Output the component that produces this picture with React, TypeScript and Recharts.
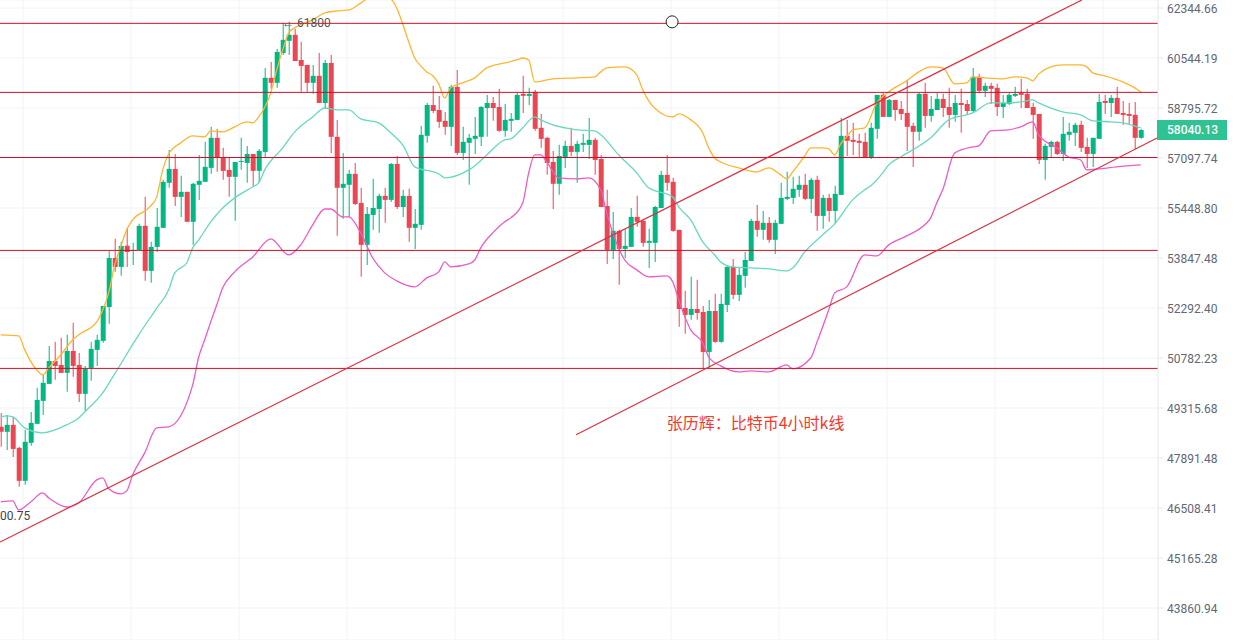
import React from "react";
import {
  Bar,
  CartesianGrid,
  Cell,
  ComposedChart,
  Line,
  ReferenceDot,
  ReferenceLine,
  XAxis,
  YAxis,
} from "recharts";

// 4h candles, oldest first
const opens = [
  48775, 48632, 48832, 48177, 47255, 48320, 48860, 49521, 50019, 50694,
  50577, 50342, 50993, 50577, 49726, 50489, 51024, 51295, 52323, 53847,
  53567, 54232, 54072, 54104, 54873, 53443, 54200, 54808, 56274, 56735,
  55812, 55977, 55001, 56208, 56306, 56768, 57777, 57132, 56702, 56471,
  56966, 56933, 57234, 56669, 57302, 59845, 59670, 60725, 61157, 61373,
  60474, 60299, 59670, 59915, 58970, 60369, 57811, 56109, 56208, 56570,
  55614, 54264, 55225, 55417, 55845, 55713, 56900, 55482, 55845, 54808,
  54905, 57845, 58900, 58728, 58355, 58151, 59530, 57268, 57607, 57743,
  57811, 58796, 58970, 58830, 58015, 58355, 58388, 59285, 59215, 59355,
  58117, 57777, 56966, 56241, 57132, 57505, 57302, 57539, 57539, 57709,
  57065, 55515, 54104, 54712, 54136, 54200, 55161, 55033, 54328, 54328,
  55449, 56537, 56306, 54744, 52292, 52081, 52262, 52171, 50963, 52201,
  51265, 52386, 53567, 52697, 53287, 53754, 55033, 54744, 54969, 54424,
  54937, 55746, 55779, 56043, 56208, 55746, 56372, 55193, 55779, 55353,
  55878, 57845, 57709, 57675, 57641, 57132, 58083, 59250, 58490, 59075,
  58762, 58626, 58185, 57981, 59285, 58524, 58728, 59110, 58830, 58558,
  58970, 58935, 58694, 59880, 59390, 59565, 59495, 58830, 58935, 59215,
  59320, 59285, 58830, 58592, 57032, 57471, 57641, 57234, 57879, 57947,
  58219, 57471, 57234, 57743, 59040, 58970, 59145, 58626, 58592, 58558,
  57777,
];
const highs = [
  49174, 49117, 49060, 48205, 48689, 49202, 49902, 50283, 51144, 51265,
  51386, 51477, 51839, 50933, 50547, 51265, 51477, 52355, 54072, 54456,
  54360, 54808, 54328, 54937, 55812, 54360, 55449, 56372, 57370, 57234,
  56504, 55977, 56274, 57200, 57641, 58151, 58083, 57438, 57132, 56966,
  57777, 57505, 57234, 57404, 60194, 60404, 60869, 61805, 61841, 61589,
  61121, 60299, 60299, 60725, 60474, 60653, 58388, 57268, 56702, 56933,
  56109, 55482, 56405, 55911, 56109, 56933, 57166, 56043, 56076, 55417,
  58185, 58970, 59565, 59215, 58660, 59600, 60124, 58151, 57913, 58490,
  58865, 59250, 59180, 59460, 58935, 58626, 59320, 59915, 59495, 59425,
  58592, 57811, 57336, 57539, 57675, 58117, 57675, 57913, 58456, 57777,
  57200, 56043, 55321, 54744, 54776, 55449, 55845, 55065, 54776, 55515,
  56669, 57200, 56438, 54744, 52821, 53256, 53163, 52355, 52541, 52728,
  52728, 53598, 53816, 53567, 54040, 55097, 55548, 55353, 55161, 55065,
  56274, 56636, 56471, 56504, 56570, 56438, 56504, 55878, 55911, 56175,
  58456, 58388, 58287, 57913, 57947, 58287, 59250, 59320, 59110, 59075,
  59040, 59775, 58287, 59320, 59670, 59215, 59320, 59285, 59495, 59250,
  59460, 59075, 60194, 59984, 59670, 59670, 59635, 59250, 59320, 59530,
  59810, 59460, 58970, 58592, 57573, 57675, 57675, 58490, 58287, 58287,
  58355, 57777, 57777, 59285, 59250, 59250, 59530, 59040, 58970, 59005,
  58083,
];
const lows = [
  48205, 48120, 47920, 47089, 47144, 48234, 48860, 49117, 50019, 50137,
  50342, 49785, 50225, 49491, 49231, 50107, 50547, 51235, 51809, 53412,
  53287, 53567, 53629, 54104, 53132, 53070, 54040, 54808, 56109, 55515,
  55161, 55001, 54264, 55713, 56306, 56570, 56636, 56372, 55812, 55033,
  56702, 56274, 56142, 56274, 57132, 59460, 59495, 60653, 60653, 60439,
  59355, 59355, 59285, 58970, 58762, 57268, 54552, 55097, 55161, 55548,
  53256, 53629, 54744, 54648, 54969, 55647, 55417, 55161, 54360, 54136,
  54744, 57607, 58626, 58117, 57879, 57505, 57200, 57032, 56208, 57234,
  57505, 57811, 58355, 57981, 57811, 57981, 58388, 58626, 58900, 58015,
  57438, 56537, 55417, 55878, 56768, 57166, 56274, 57302, 57065, 56537,
  55482, 53660, 53816, 53007, 53847, 54200, 54841, 54200, 53536, 53723,
  55449, 56010, 54680, 51718, 51507, 51930, 51930, 50489, 50489, 51235,
  51235, 52171, 52572, 52510, 52914, 53754, 54520, 54424, 54328, 53976,
  54937, 55713, 55581, 55812, 55713, 55289, 54712, 54776, 55001, 54937,
  55878, 57166, 57200, 57098, 57098, 57065, 57743, 58490, 58490, 58355,
  58388, 57336, 56801, 57675, 58117, 58321, 58728, 58490, 58117, 58321,
  57947, 58558, 58660, 59320, 59180, 58935, 58524, 58456, 58900, 59180,
  58796, 58796, 57743, 56900, 56372, 57132, 57200, 56999, 57675, 57505,
  57302, 56768, 56801, 57743, 58592, 58490, 58592, 58219, 58219, 57404,
  57743,
];
const closes = [
  48632, 48832, 48148, 47255, 48348, 48889, 49550, 50049, 50694, 50547,
  50342, 50993, 50547, 49726, 50459, 51054, 51326, 52355, 53847, 53567,
  54232, 54040, 54104, 54873, 53443, 54200, 54841, 56306, 56735, 55812,
  55977, 55001, 56241, 56339, 56801, 57777, 57098, 56669, 56471, 56966,
  56999, 57234, 56669, 57336, 59845, 59670, 60761, 61193, 61373, 60439,
  60264, 59670, 59915, 58970, 60369, 57811, 56109, 56241, 56570, 55581,
  54264, 55257, 55449, 55845, 55713, 56900, 55482, 55845, 54808, 54937,
  57879, 58900, 58694, 58321, 58151, 59530, 57268, 57641, 57777, 57845,
  58830, 58970, 58796, 58015, 58388, 58422, 59250, 59215, 59285, 58083,
  57743, 56933, 56241, 57166, 57505, 57302, 57573, 57607, 57709, 57032,
  55482, 54104, 54712, 54136, 54232, 55161, 55001, 54328, 54392, 55482,
  56537, 56274, 54712, 52262, 52081, 52262, 52141, 50963, 52201, 51265,
  52417, 53567, 52697, 53318, 53785, 55033, 54744, 54969, 54424, 54969,
  55779, 55812, 56076, 56208, 55746, 56372, 55193, 55779, 55353, 55911,
  57845, 57675, 57641, 57607, 57132, 58117, 59250, 58490, 59075, 58728,
  58592, 58151, 57981, 59285, 58524, 58762, 59110, 58796, 58558, 58970,
  58900, 58694, 59880, 59390, 59565, 59460, 58830, 58970, 59250, 59285,
  59250, 58796, 58558, 57032, 57505, 57641, 57234, 57913, 57981, 58219,
  57438, 57234, 57777, 59005, 58970, 59145, 58592, 58558, 58524, 57777,
  58040,
];

// bollinger bands, sampled at these candle positions
const upperAt = [
  0, 3, 4, 6, 7, 8, 10, 12, 13, 16, 17, 18, 19, 20, 21, 22, 25, 26, 27, 28,
  30, 32, 34, 35, 37, 39, 41, 42, 43, 45, 46, 47, 48, 49, 52, 54, 56, 58, 60, 62,
  65, 66, 67, 68, 69, 70, 71, 72, 73, 74, 75, 77, 79, 81, 84, 86, 87, 88, 89, 92,
  96, 99, 100, 101, 104, 106, 107, 108, 110, 112, 113, 115, 117, 118, 119, 120, 123, 126, 128, 130,
  131, 132, 134, 135, 137, 138, 139, 140, 141, 142, 144, 146, 148, 151, 153, 155, 157, 159, 161, 162,
  164, 167, 169, 171, 172, 173, 175, 177, 180, 181, 182, 184, 187, 189, 190,
];
const upperBand = [
  51477, 51447, 51024, 50430, 50283, 50489, 50873, 51326, 51477, 51869, 52232, 52759, 53629, 54200, 54744, 55065, 55515, 55812, 56702, 57234,
  57607, 57845, 57811, 58015, 57981, 58151, 58321, 58287, 58490, 59320, 60124, 60833, 61445, 61625, 61913, 62165, 62237, 62273, 62525, 62777,
  62669, 62345, 61769, 61121, 60544, 60264, 60054, 59915, 59635, 59145, 59495, 59670, 59845, 60194, 60369, 60474, 60544, 60474, 59705, 59810,
  59845, 59880, 60054, 60194, 60229, 59949, 59425, 59040, 58626, 58490, 58592, 58388, 57947, 57438, 57098, 56966, 56768, 56636, 56768, 56537,
  56405, 56636, 57166, 57438, 57438, 57404, 57200, 57573, 57811, 58049, 58117, 58970, 59355, 59740, 60054, 60229, 60194, 59635, 59670, 59880,
  59845, 59810, 59880, 59845, 59740, 59984, 60229, 60299, 60299, 60229, 60019, 59915, 59705, 59495, 59355,
];
const midAt = [
  0, 1, 2, 4, 7, 11, 13, 14, 17, 19, 23, 26, 28, 29, 31, 32, 33, 35, 37, 39,
  42, 43, 44, 47, 49, 52, 54, 56, 58, 60, 63, 65, 67, 69, 73, 74, 78, 79, 81, 84,
  85, 87, 89, 90, 92, 95, 96, 99, 100, 103, 106, 108, 112, 113, 115, 117, 119, 120, 122, 125,
  128, 131, 132, 134, 137, 139, 142, 144, 145, 147, 148, 150, 155, 158, 162, 165, 168, 170, 172, 173,
  177, 180, 182, 185, 187, 190,
];
const midBand = [
  49060, 49088, 49060, 48746, 48604, 48832, 49031, 49202, 49756, 50313, 51477, 52292, 52852, 53381, 53691, 54168, 54424, 55001, 55449, 55779,
  56142, 56274, 56702, 57438, 57981, 58490, 58796, 58728, 58728, 58422, 58287, 57947, 57539, 56801, 56570, 56438, 56702, 56834, 57200, 57709,
  57743, 58117, 58490, 58388, 58219, 58083, 58049, 58015, 57879, 57200, 56603, 56109, 55812, 55482, 55065, 54360, 53944, 53723, 53567, 53536,
  53505, 53443, 53536, 54040, 54584, 54937, 55713, 56043, 56175, 56603, 56867, 57132, 57777, 58388, 58626, 58970, 58970, 59005, 59075, 58970,
  58660, 58558, 58355, 58321, 58287, 58117,
];
const lowerAt = [
  0, 2, 3, 5, 7, 8, 11, 13, 16, 17, 18, 20, 21, 22, 24, 26, 28, 32, 33, 34,
  35, 36, 37, 39, 42, 45, 48, 50, 52, 54, 55, 57, 58, 60, 62, 64, 66, 69, 71, 73,
  74, 75, 78, 79, 80, 82, 84, 85, 87, 88, 89, 90, 91, 93, 96, 98, 100, 101, 104, 106,
  108, 111, 112, 113, 115, 117, 118, 120, 123, 125, 128, 131, 132, 135, 136, 138, 139, 141, 144, 146,
  148, 151, 154, 155, 156, 157, 159, 162, 163, 165, 168, 170, 172, 173, 176, 178, 180, 181, 183, 186,
  190,
];
const lowerBand = [
  46674, 46702, 46454, 46674, 46923, 46785, 46536, 46646, 47283, 47338, 47034, 46895, 46978, 47421, 48035, 48746, 48775, 49990, 50812, 51326,
  51869, 52386, 52914, 53412, 53880, 54456, 53944, 54264, 54905, 55417, 55417, 55161, 55161, 54648, 53847, 53381, 53132, 52945, 53225, 53412,
  53723, 53567, 53660, 53785, 54168, 54648, 55001, 55129, 55614, 56603, 57200, 57200, 56966, 56438, 56405, 56438, 56043, 55289, 53785, 53474,
  53256, 53287, 53101, 52541, 51628, 51235, 50812, 50547, 50371, 50401, 50371, 50577, 50459, 50782, 51235, 52232, 52759, 52945, 53944, 53912,
  54264, 54552, 54905, 55129, 55614, 56043, 57268, 57471, 57505, 58015, 58049, 58151, 58321, 57879, 57438, 57132, 57032, 56702, 56735, 56801,
  56867,
];

const yTicks = [
  62344.66, 60544.19, 58795.72, 57097.74, 55448.8, 53847.48, 52292.4, 50782.23,
  49315.68, 47891.48, 46508.41, 45165.28, 43860.94,
];
const levels = [61787, 59337, 57115, 54088, 50474];
const channelLower = [
  { x: -0.1, y: 45590 },
  { x: 180.2, y: 62638 },
];
const channelUpper = [
  { x: 95.9, y: 48547 },
  { x: 192.8, y: 57777 },
];
const gridX = [23, 131, 239, 347, 455, 563, 671, 779, 887, 995, 1103];

const UP = "#00b884";
const DOWN = "#ea4653";

const rows = opens.map((open, k) => {
  const upperIdx = upperAt.indexOf(k);
  const midIdx = midAt.indexOf(k);
  const lowerIdx = lowerAt.indexOf(k);
  return {
    k,
    rising: closes[k] >= open,
    wick: [lows[k], highs[k]],
    body: [Math.min(open, closes[k]), Math.max(open, closes[k])],
    upper: upperIdx >= 0 ? upperBand[upperIdx] : null,
    mid: midIdx >= 0 ? midBand[midIdx] : null,
    lower: lowerIdx >= 0 ? lowerBand[lowerIdx] : null,
  };
});

const App: React.FC = () => {
  return (
    <div
      style={{
        position: "absolute",
        left: 0,
        top: 0,
        width: 1237,
        height: 640,
        background: "#fff",
        fontFamily: "Roboto, sans-serif",
      }}
    >
      <ComposedChart
        width={1237}
        height={640}
        data={rows}
        margin={{ top: 0, right: 0, bottom: 0, left: 0 }}
      >
        <CartesianGrid stroke="#f1f3f7" verticalPoints={gridX} />
        <XAxis
          dataKey="k"
          type="number"
          domain={[-0.1167, 192.883]}
          allowDataOverflow
          hide
        />
        <XAxis
          xAxisId="body"
          dataKey="k"
          type="number"
          domain={[-0.1167, 192.883]}
          allowDataOverflow
          hide
        />
        <YAxis
          orientation="right"
          width={79}
          scale="log"
          domain={[43046, 62638]}
          allowDataOverflow
          ticks={yTicks}
          interval={0}
          tickFormatter={(v: number) => v.toFixed(2)}
          tick={{ fill: "#5f6878", fontSize: 12, dy: 1 }}
          tickSize={5}
          tickMargin={4}
          tickLine={{ stroke: "#e3e6ec" }}
          axisLine={{ stroke: "#e3e6ec" }}
        />

        <Bar dataKey="wick" barSize={1} isAnimationActive={false}>
          {rows.map((r) => (
            <Cell key={r.k} fill={r.rising ? UP : DOWN} />
          ))}
        </Bar>
        <Bar xAxisId="body" dataKey="body" barSize={5} minPointSize={1} isAnimationActive={false}>
          {rows.map((r) => (
            <Cell key={r.k} fill={r.rising ? UP : DOWN} />
          ))}
        </Bar>

        <Line type="monotone" dataKey="upper" stroke="#ffb52e" strokeWidth={1.3} dot={false} activeDot={false} connectNulls isAnimationActive={false} />
        <Line type="monotone" dataKey="mid" stroke="#66d9bf" strokeWidth={1.3} dot={false} activeDot={false} connectNulls isAnimationActive={false} />
        <Line type="monotone" dataKey="lower" stroke="#ea5cc6" strokeWidth={1.3} dot={false} activeDot={false} connectNulls isAnimationActive={false} />

        {levels.map((y) => (
          <ReferenceLine key={y} y={y} stroke="#cf1027" strokeWidth={1} />
        ))}
        <ReferenceLine segment={channelLower} stroke="#dc3040" strokeWidth={1.2} ifOverflow="visible" />
        <ReferenceLine segment={channelUpper} stroke="#dc3040" strokeWidth={1.2} ifOverflow="visible" />

        <ReferenceDot x={111.9} y={61841} r={6} fill="#fff" stroke="#222" strokeWidth={1} />
        <ReferenceDot
          x={46.9}
          y={61805}
          r={0}
          label={{ value: "← 61800", position: "right", offset: 0, fill: "#555", fontSize: 12 }}
        />
        <ReferenceDot
          x={-0.1}
          y={46290}
          r={0}
          label={{ value: "00.75", position: "right", offset: 0, fill: "#444", fontSize: 12 }}
        />
        <ReferenceDot
          x={111}
          y={48889}
          r={0}
          label={{
            value: "张历辉：比特币4小时k线",
            position: "right",
            offset: 0,
            fill: "#f4392d",
            fontSize: 16,
            fontFamily: "Noto Sans CJK SC",
          }}
        />
      </ComposedChart>
      <div
        style={{
          position: "absolute",
          left: 1157,
          top: 120,
          width: 70,
          height: 20,
          background: "#2fc295",
          color: "#fff",
          fontSize: 12,
          fontWeight: 500,
          lineHeight: "20px",
          paddingLeft: 10,
          boxSizing: "border-box",
        }}
      >
        58040.13
      </div>
    </div>
  );
};

export default App;
